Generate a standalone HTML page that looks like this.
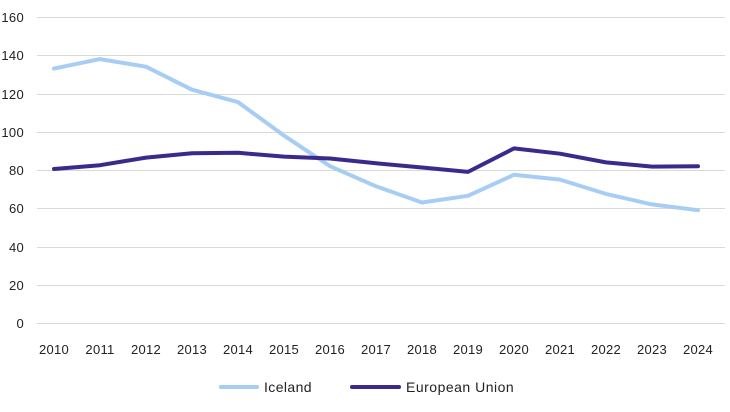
<!DOCTYPE html>
<html><head><meta charset="utf-8"><style>
html,body{margin:0;padding:0;background:#fff;}
svg{display:block;font-family:"Liberation Sans",sans-serif;}
</style></head><body>
<svg width="730" height="412" viewBox="0 0 730 412">
<g stroke="#d9d9d9" stroke-width="1">
<line x1="37" x2="725" y1="17.5" y2="17.5"/>
<line x1="37" x2="725" y1="55.5" y2="55.5"/>
<line x1="37" x2="725" y1="94.5" y2="94.5"/>
<line x1="37" x2="725" y1="132.5" y2="132.5"/>
<line x1="37" x2="725" y1="170.5" y2="170.5"/>
<line x1="37" x2="725" y1="208.5" y2="208.5"/>
<line x1="37" x2="725" y1="247.5" y2="247.5"/>
<line x1="37" x2="725" y1="285.5" y2="285.5"/>
<line x1="37" x2="725" y1="323.5" y2="323.5"/>
</g>
<g font-size="13" fill="#222" text-anchor="end" letter-spacing="0.3">
<text x="24" y="22">160</text><text x="24" y="60">140</text><text x="24" y="99">120</text>
<text x="24" y="137">100</text><text x="24" y="175">80</text><text x="24" y="213">60</text>
<text x="24" y="252">40</text><text x="24" y="290">20</text><text x="24" y="328">0</text>
</g>
<g font-size="13" fill="#222" text-anchor="middle" letter-spacing="0.3">
<text x="54" y="354">2010</text><text x="100" y="354">2011</text><text x="146" y="354">2012</text>
<text x="192" y="354">2013</text><text x="238" y="354">2014</text><text x="284" y="354">2015</text>
<text x="330" y="354">2016</text><text x="376" y="354">2017</text><text x="422" y="354">2018</text>
<text x="468" y="354">2019</text><text x="514" y="354">2020</text><text x="560" y="354">2021</text>
<text x="606" y="354">2022</text><text x="652" y="354">2023</text><text x="698" y="354">2024</text>
</g>
<polyline fill="none" stroke="#a8cdf5" stroke-width="4" stroke-linejoin="round" stroke-linecap="round"
points="54,68.6 100,59.1 146,66.7 192,89.7 238,102.1 284,135.6 330,166.2 376,186.3 422,202.5 468,195.8 514,174.8 560,179.6 606,193.9 652,204.4 698,210.2"/>
<polyline fill="none" stroke="#3a2a8c" stroke-width="4" stroke-linejoin="round" stroke-linecap="round"
points="54,169 100,165.2 146,157.6 192,153.2 238,152.8 284,156.6 330,158.5 376,163.3 422,167.5 468,171.9 514,148.4 560,153.7 606,162.4 652,166.6 698,166.2"/>
<line x1="221" x2="257" y1="387" y2="387" stroke="#a8cdf5" stroke-width="4" stroke-linecap="round"/>
<text x="264" y="392" font-size="14" letter-spacing="0.4" fill="#222">Iceland</text>
<line x1="352" x2="399" y1="387" y2="387" stroke="#3a2a8c" stroke-width="4" stroke-linecap="round"/>
<text x="406" y="392" font-size="14" letter-spacing="0.5" fill="#222">European Union</text>
</svg>
</body></html>
